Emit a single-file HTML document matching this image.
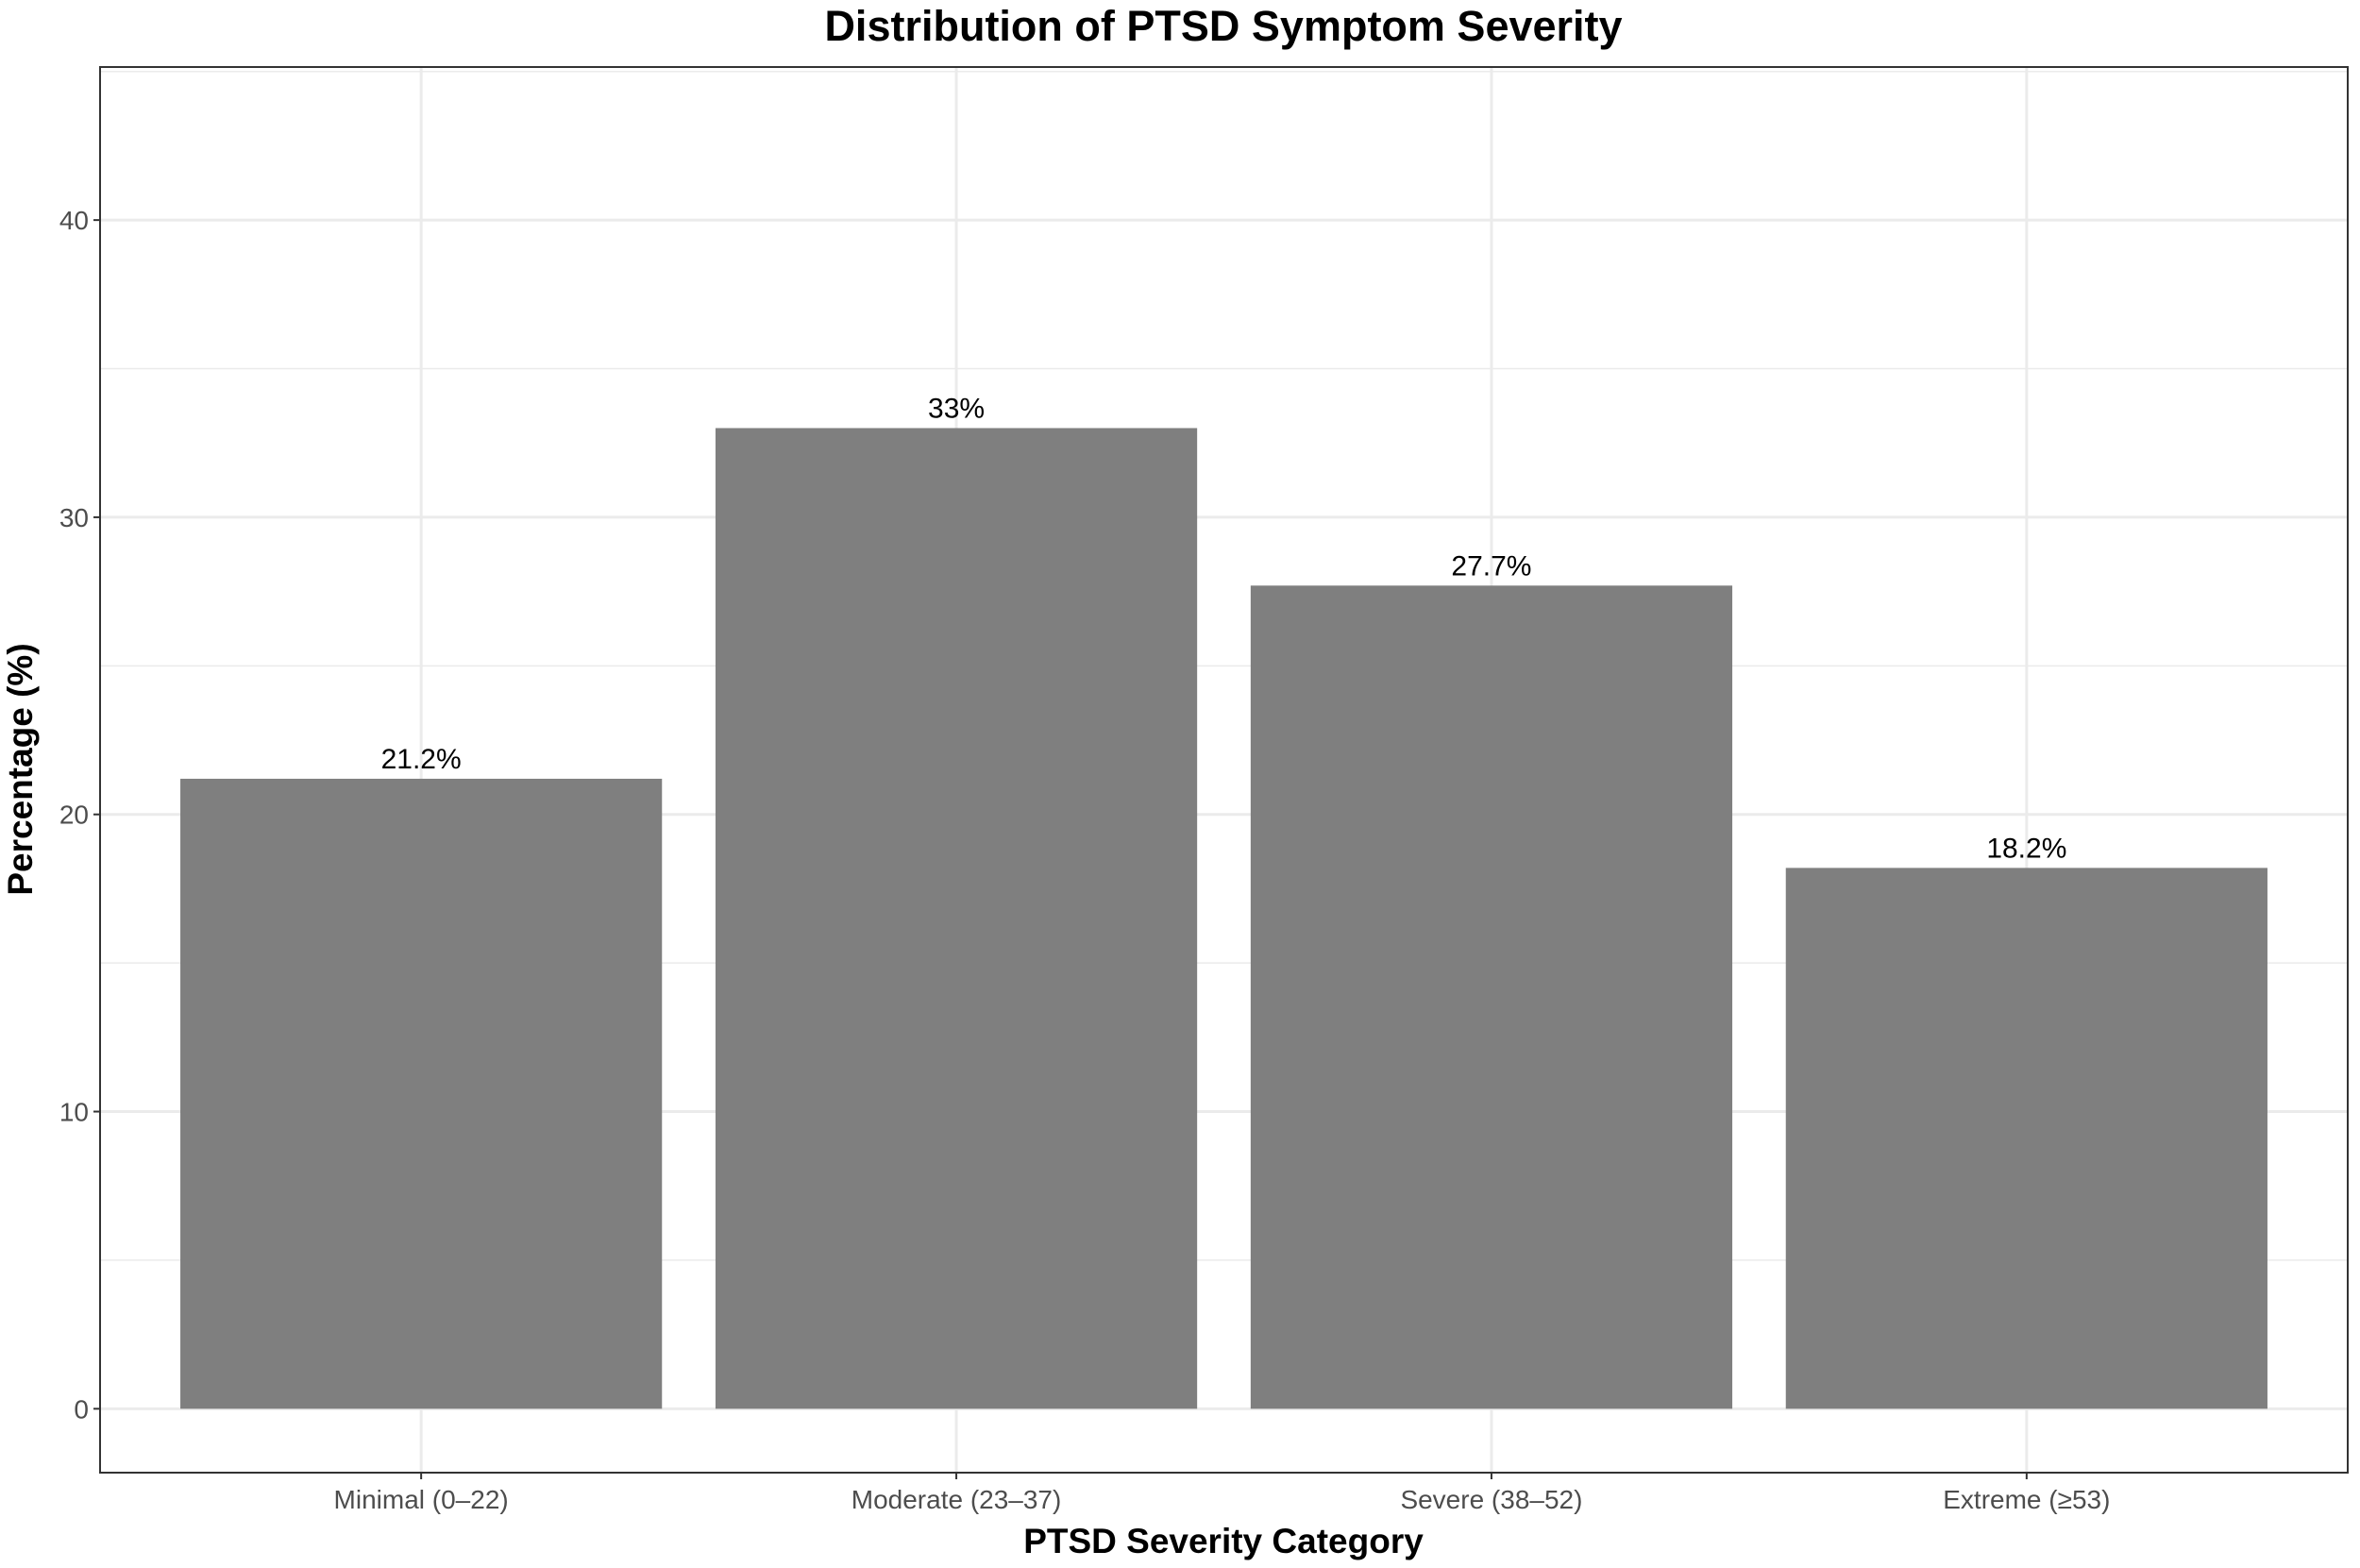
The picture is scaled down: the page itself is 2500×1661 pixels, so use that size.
<!DOCTYPE html>
<html><head><meta charset="utf-8"><style>
html,body{margin:0;padding:0;background:#fff;}
svg{display:block;font-family:"Liberation Sans",sans-serif;}
</style></head><body>
<svg id="chart" width="2500" height="1661" viewBox="0 0 2500 1661" xmlns="http://www.w3.org/2000/svg">
<rect width="2500" height="1661" fill="#fff"/>
<text x="1296" y="43" text-anchor="middle" font-size="45" font-weight="bold" fill="#000">Distribution of PTSD Symptom Severity</text>
<g id="grid"></g>
<g id="bars"></g>
<g id="labels"></g>
<rect x="106" y="71" width="2381" height="1489" fill="none" stroke="#333" stroke-width="2"/>
<g id="axes"></g>
<text x="1296" y="1645" text-anchor="middle" font-size="37" font-weight="bold" fill="#000">PTSD Severity Category</text>
<text transform="translate(34,815) rotate(-90)" text-anchor="middle" font-size="37" font-weight="bold" fill="#000">Percentage (%)</text>
</svg>
<script>
const categories = ["Minimal (0–22)", "Moderate (23–37)", "Severe (38–52)", "Extreme (≥53)"];
const values = [21.2, 33, 27.7, 18.2];
const valueLabels = ["21.2%", "33%", "27.7%", "18.2%"];
const yTicks = [0, 10, 20, 30, 40];
const yMinor = [5, 15, 25, 35, 45];

const NS = "http://www.w3.org/2000/svg";
const pLeft = 106, pRight = 2487, pTop = 71, pBottom = 1560;
const yMin = -2.15, yMax = 45.15;
const yS = v => pBottom - (v - yMin) / (yMax - yMin) * (pBottom - pTop);
const band = (pRight - pLeft) / (categories.length + 0.2);
const xS = i => pLeft + band * (0.6 + i);
function mk(tag, attrs, parent) {
  const e = document.createElementNS(NS, tag);
  for (const k in attrs) e.setAttribute(k, attrs[k]);
  parent.appendChild(e);
  return e;
}
const gridG = document.getElementById('grid'), barsG = document.getElementById('bars'),
      labelsG = document.getElementById('labels'), axesG = document.getElementById('axes');
yMinor.forEach(v => {
  if (yS(v) < pTop) return;
  const l = mk('line', {x1: pLeft, x2: pRight, y1: yS(v), y2: yS(v), stroke: '#ebebeb', 'stroke-width': 1.5}, gridG);
  
  
});
yTicks.forEach(v => {
  const l = mk('line', {x1: pLeft, x2: pRight, y1: yS(v), y2: yS(v), stroke: '#ebebeb', 'stroke-width': 3}, gridG);
  
  
  const t = mk('line', {x1: pLeft - 7, x2: pLeft, y1: yS(v), y2: yS(v), stroke: '#333', 'stroke-width': 2}, axesG);
  
  
  const tx = mk('text', {x: pLeft - 12, y: yS(v) + 10, 'text-anchor': 'end', 'font-size': 28, fill: '#4d4d4d'}, axesG);
  tx.textContent = v;
  
  
});
categories.forEach((c, i) => {
  const cx = xS(i);
  const g = mk('line', {x1: cx, x2: cx, y1: pTop, y2: pBottom, stroke: '#ebebeb', 'stroke-width': 3}, gridG);
  
  
  const w = band * 0.9;
  const r = mk('rect', {x: cx - w / 2, y: yS(values[i]), width: w, height: yS(0) - yS(values[i]), fill: '#7f7f7f'}, barsG);
  
  
  const lb = mk('text', {x: cx, y: yS(values[i]) - 11, 'text-anchor': 'middle', 'font-size': 30, fill: '#000'}, labelsG);
  lb.textContent = valueLabels[i];
  
  
  const t = mk('line', {x1: cx, x2: cx, y1: pBottom, y2: pBottom + 7, stroke: '#333', 'stroke-width': 2}, axesG);
  
  
  const tx = mk('text', {x: cx, y: pBottom + 38, 'text-anchor': 'middle', 'font-size': 28, fill: '#4d4d4d'}, axesG);
  tx.textContent = c;
  
  
});
</script>
</body></html>
